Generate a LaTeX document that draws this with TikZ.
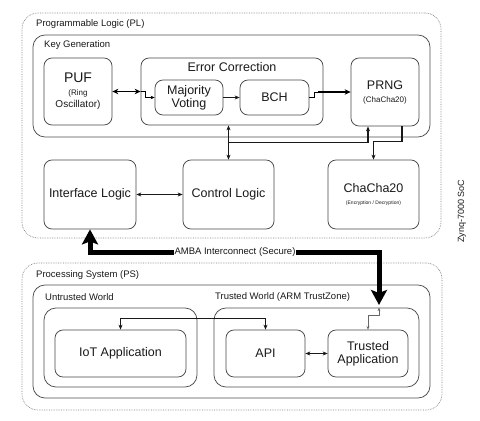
\documentclass[tikz,border=0pt]{standalone}
\usepackage{fontspec}
\setmainfont{Liberation Sans}
\usetikzlibrary{arrows.meta,calc}
\begin{document}
\begin{tikzpicture}[x=1pt,y=-1pt,
  box/.style={draw=black!72, line width=0.75pt, rounded corners=8pt, inner sep=0pt, text=black!90, align=center},
  grp/.style={draw=black!70, line width=0.75pt, rounded corners=12pt, inner sep=0pt},
  outer/.style={draw=black!50, densely dotted, line width=0.7pt, rounded corners=16pt, inner sep=0pt},
  lbl/.style={anchor=west, inner sep=0pt, font=\fontsize{9.5}{11}\selectfont, text=black!90},
  bigf/.style={font=\fontsize{12.5}{14}\selectfont},
  conn/.style={line width=0.8pt, draw=black!90, -{Stealth[length=5pt,width=4pt]}},
  dconn/.style={line width=0.8pt, draw=black!90, {Stealth[length=5pt,width=4pt]}-{Stealth[length=5pt,width=4pt]}},
  tconn/.style={line width=1.5pt, draw=black, {Stealth[length=6pt,width=5.5pt]}-{Stealth[length=6pt,width=5.5pt]}},
  amba/.style={line width=5pt, draw=black, {Stealth[length=15pt,width=16pt,inset=3pt]}-{Stealth[length=15pt,width=16pt,inset=3pt]}},
  sconn/.style={line width=0.6pt, draw=black!60, {Stealth[length=3.5pt,width=3pt]}-{Stealth[length=3.5pt,width=3pt]}}
]
\useasboundingbox (0,0) rectangle (480,421);
% Programmable logic
\node[outer, minimum width=419, minimum height=225] (pl) at (231.5,125.5) {};
\node[lbl] (pllbl) at (36,24) {Programmable Logic (PL)};
\node[grp, minimum width=397, minimum height=102] (kg) at (231.5,86) {};
\node[lbl] (kglbl) at (44,45) {Key Generation};
\node[box, minimum width=68, minimum height=67] (puf) at (78,91.5)
  {{\fontsize{14}{15}\selectfont PUF}\\[1pt]\fontsize{8}{11}\selectfont (Ring\\Oscillator)};
\node[box, minimum width=182, minimum height=67] (ec) at (232,91.5) {};
\node[anchor=north, inner sep=0pt, bigf, text=black!90] (eclbl) at ($(ec.north)+(0,5)$) {Error Correction};
\node[box, bigf, minimum width=68, minimum height=35] (mv) at (189,97.5) {Majority\\[-1pt]Voting};
\node[box, bigf, minimum width=69, minimum height=35] (bch) at (274.5,97.5) {BCH};
\node[box, minimum width=68, minimum height=68] (prng) at (385,92)
  {{\fontsize{12.5}{14}\selectfont PRNG}\\[1pt]\fontsize{8}{10}\selectfont (ChaCha20)};
\node[box, bigf, minimum width=92, minimum height=69] (il) at (90,194.5) {Interface Logic};
\node[box, bigf, minimum width=91, minimum height=69] (cl) at (228.5,194.5) {Control Logic};
\node[box, minimum width=91, minimum height=69] (cc) at (373.5,194.5)
  {{\fontsize{12.5}{14}\selectfont ChaCha20}\\[0pt]\fontsize{5}{6}\selectfont (Encryption / Decryption)};
\node[rotate=90, inner sep=0pt, font=\fontsize{9}{10}\selectfont, text=black!90] (zynq) at (462,211) {Zynq-7000 SoC};
% Processing system
\node[outer, minimum width=420, minimum height=147] (ps) at (232,336.5) {};
\node[lbl] (pslbl) at (36,275) {Processing System (PS)};
\node[grp, minimum width=397, minimum height=113] (psin) at (231.5,341.5) {};
\node[lbl] (uwlbl) at (45,297) {Untrusted World};
\node[lbl] (twlbl) at (215,297) {Trusted World (ARM TrustZone)};
\node[grp, minimum width=153, minimum height=79] (uw) at (120.5,347.5) {};
\node[grp, minimum width=205, minimum height=79] (tw) at (316.5,347.5) {};
\node[box, bigf, minimum width=131, minimum height=47] (iot) at (120.5,353.5) {IoT Application};
\node[box, bigf, minimum width=79, minimum height=47] (api) at (265.5,353.5) {API};
\node[box, bigf, minimum width=80, minimum height=47] (ta) at (368,353.5) {Trusted\\[-1pt]Application};
% connectors in key generation
\draw[tconn] (puf.east) -- (ec.west);
\draw[line width=0.7pt, -{Stealth[length=4pt,width=3.5pt]}] (ec.west) -- ++(5,0) |- (mv.west);
\draw[conn] (mv.east) -- (bch.west);
\coordinate (bstep) at ($(bch.east)+(5,0)$);
\coordinate (bjoin) at ($(ec.east |- prng.west)+(-5,0)$);
\draw[line width=0.7pt] (bch.east) -- (bstep) |- (bjoin);
\draw[line width=1.5pt, -{Stealth[length=6pt,width=5.5pt]}] (bjoin) -- (prng.west);
% control bus
\draw[dconn, line width=1.3pt] (cl.north |- ec.south) -- (cl.north);
\coordinate (j1) at ($(cl.north)+(0,-17)$);
\draw[conn, line width=1.3pt] (j1) -| ($(prng.south)+(-17,0)$);
\draw[conn, line width=1.3pt] ($(prng.south)+(17,0)$) |- ($(cc.north)+(0,-18)$) -- (cc.north);
\draw[dconn] (il.east) -- (cl.west);
% AMBA
\coordinate (ambaend) at (379,305);
\coordinate (ambacorner) at ($(il.south)+(0,23)$);
\draw[amba] (il.south) -- (ambacorner) -| (ambaend);
\node[fill=white, inner sep=1pt, font=\fontsize{9.5}{11}\selectfont, text=black!90] (ambalbl) at (235,252) {AMBA Interconnect (Secure)};
% processing system connectors
\draw[sconn] (ta.north) -- ++(0,-14) -| (tw.north -| ambaend);
\draw[dconn] (api.east) -- (ta.west);
\draw[dconn, line width=1.3pt] (iot.north) -- ++(0,-11) -| (api.north);
\end{tikzpicture}
\end{document}
